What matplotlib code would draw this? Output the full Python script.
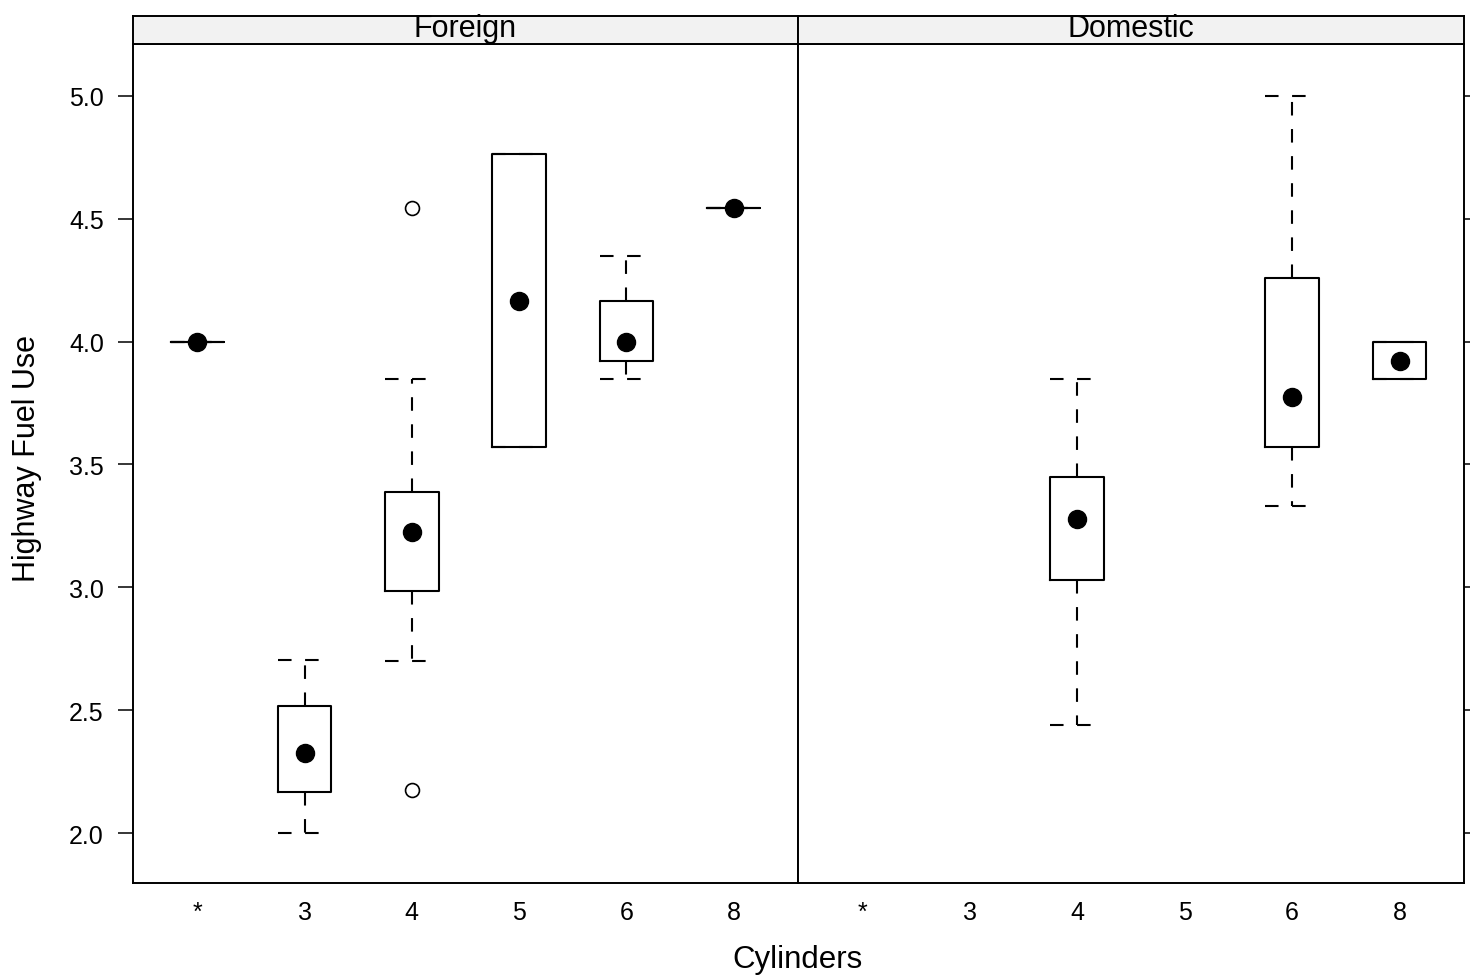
import matplotlib
matplotlib.use('Agg')
import matplotlib.pyplot as plt

plt.rcParams['font.family'] = ['Liberation Sans', 'DejaVu Sans']

# categories (cylinders) and panels
cyl_labels = ['*', '3', '4', '5', '6', '8']
panels = ['Foreign', 'Domestic']

# Foreign: box stats per category
foreign_cats = ['*', '3', '4', '5', '6', '8']
foreign_whislo = [4.0, 2.0, 2.70, 3.571, 3.846, 4.545]
foreign_q1 = [4.0, 2.165, 2.985, 3.571, 3.922, 4.545]
foreign_med = [4.0, 2.326, 3.226, 4.167, 4.0, 4.545]
foreign_q3 = [4.0, 2.515, 3.390, 4.762, 4.167, 4.545]
foreign_whishi = [4.0, 2.703, 3.846, 4.762, 4.348, 4.545]
foreign_fliers = [[], [], [4.545, 2.174], [], [], []]

# Domestic: only 4, 6, 8 cylinders present
domestic_cats = ['4', '6', '8']
domestic_whislo = [2.439, 3.333, 3.846]
domestic_q1 = [3.030, 3.571, 3.846]
domestic_med = [3.279, 3.775, 3.922]
domestic_q3 = [3.448, 4.259, 4.0]
domestic_whishi = [3.846, 5.0, 4.0]
domestic_fliers = [[], [], []]

yticks = [2.0, 2.5, 3.0, 3.5, 4.0, 4.5, 5.0]

W, H = 1470, 979
fig = plt.figure(figsize=(W / 100, H / 100), dpi=100)

def fx(px):
    return px / W

def fy(py):
    return 1 - py / H

panel_left = [133, 798]
panel_width = [665, 666]
top, bottom, strip_top = 45, 884, 17

data = [
    (foreign_cats, foreign_whislo, foreign_q1, foreign_med, foreign_q3, foreign_whishi, foreign_fliers),
    (domestic_cats, domestic_whislo, domestic_q1, domestic_med, domestic_q3, domestic_whishi, domestic_fliers),
]

dash = (0, (6.5, 6.5))
lw = 1.5

for i, name in enumerate(panels):
    ax = fig.add_axes([fx(panel_left[i]), fy(bottom), fx(panel_width[i]), (bottom - top) / H])
    cats, lo, q1, med, q3, hi, fl = data[i]
    pos = [cyl_labels.index(c) + 1 for c in cats]
    stats = []
    for k in range(len(cats)):
        stats.append({'whislo': lo[k], 'q1': q1[k], 'med': med[k], 'q3': q3[k],
                      'whishi': hi[k], 'fliers': fl[k]})
    ax.bxp(stats, positions=pos, widths=0.5, capwidths=0.5, showfliers=True,
           boxprops=dict(color='black', linewidth=lw),
           whiskerprops=dict(color='black', linewidth=lw, linestyle=dash),
           capprops=dict(color='black', linewidth=lw, linestyle=dash),
           medianprops=dict(linewidth=0),
           flierprops=dict(marker='o', markerfacecolor='none', markeredgecolor='black',
                           markersize=10, markeredgewidth=1.2))
    ax.plot(pos, med, 'o', color='black', markersize=13, zorder=5)

    ax.set_xlim(0.4, 6.6)
    ax.set_ylim(2 - 50 / 245.67, 5 + 52 / 245.67)
    ax.set_xticks(range(1, 7))
    ax.set_xticklabels(cyl_labels, fontsize=18)
    ax.tick_params(axis='x', length=0, pad=12)
    ax.set_yticks(yticks)
    if i == 0:
        ax.set_yticklabels(['%.1f' % v for v in yticks], fontsize=18)
        ax.tick_params(axis='y', direction='out', length=11, width=1.1, pad=10,
                       left=True, right=False)
    else:
        ax.tick_params(axis='y', direction='out', length=11, width=1.1,
                       left=False, right=True, labelleft=False, labelright=False)
    for s in ax.spines.values():
        s.set_linewidth(1.4)

    sax = fig.add_axes([fx(panel_left[i]), fy(top), fx(panel_width[i]), (top - strip_top) / H])
    sax.set_facecolor('#f2f2f2')
    sax.set_xticks([])
    sax.set_yticks([])
    for s in sax.spines.values():
        s.set_linewidth(1.4)
    sax.text(0.5, 0.29, name, ha='center', va='baseline', fontsize=22, transform=sax.transAxes)

fig.text(fx(798), fy(968), 'Cylinders', ha='center', va='baseline', fontsize=22.5)
fig.text(fx(27), fy(459), 'Highway Fuel Use', ha='center', va='center', rotation=90, fontsize=22)

fig.savefig('out.png', dpi=100)
